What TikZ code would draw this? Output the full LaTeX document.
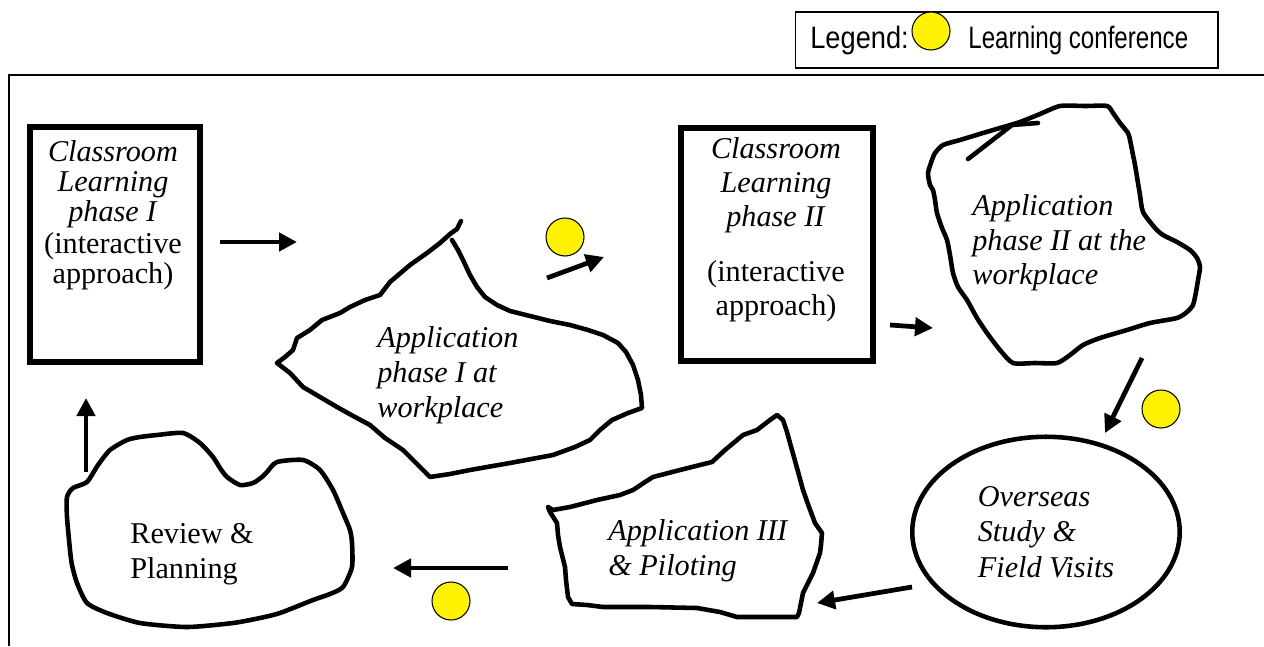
\documentclass[tikz,border=0pt]{standalone}
\usepackage{fontspec}
\setmainfont{Liberation Serif}
\newfontfamily\legendfont[FakeStretch=0.78]{Liberation Sans}
\newfontfamily\legendwide[FakeStretch=0.88]{Liberation Sans}
\usetikzlibrary{arrows.meta,shapes.geometric}

\tikzset{
  blob/.style={line width=2.6pt, line join=round, line cap=round},
  phasebox/.style={draw, line width=3.4pt, inner sep=0pt},
  flow/.style={line width=2.7pt, -{Triangle[length=3.6mm,width=3.6mm]}},
  confdot/.style={circle, draw, fill=yellow, line width=0.6pt, minimum size=0.76cm, inner sep=0pt},
  phasetxt/.style={inner sep=0pt, align=left, font=\fontsize{17.2}{19.8}\selectfont},
  boxtxt/.style={inner sep=0pt, align=center},
  legendtxt/.style={inner sep=0pt, font=\legendfont\fontsize{17.6}{20}\selectfont}
}

\begin{document}
\begin{tikzpicture}[x=0.02cm, y=-0.02cm]
\useasboundingbox (0,0) rectangle (1264,646);
% frame and legend
\draw[line width=1.1pt] (9,646) -- (9,75) -- (1264,75);
\node[draw, line width=0.6pt, minimum width=8.46cm, minimum height=1.12cm] (legendbox) at (1006.5,40) {};
\node[legendtxt, anchor=base west, font=\legendwide\fontsize{17.6}{20}\selectfont] (legend) at (810,48) {Legend:};
\node[confdot] (legenddot) at (931,31) {};
\node[legendtxt, anchor=base west] (legendconf) at (968,48) {Learning conference};

% classroom boxes
\node[phasebox, minimum width=3.42cm, minimum height=4.7cm] (clsI) at (115,244.5) {};
\node[boxtxt, font=\fontsize{17.2}{17.1}\selectfont] (clsItxt) at (113,215)
  {\textit{Classroom}\\\textit{Learning}\\\textit{phase I}\\[1pt](interactive\\approach)};
\node[phasebox, minimum width=3.83cm, minimum height=4.68cm] (clsII) at (777,244.5) {};
\node[boxtxt, font=\fontsize{17.2}{19.3}\selectfont] (clsIItxt) at (776,230)
  {\textit{Classroom}\\\textit{Learning}\\\textit{phase II}\\[12pt](interactive\\approach)};

% application phase I
\draw[blob] plot coordinates {(461,221) (457,229) (450,234) (440,243) (427,253) (410,265)
  (390,282) (380,295) (365,300) (350,307) (340,313) (322,320) (310,330) (297,338) (293,350)
  (285,357) (277,363) (290,373) (303,387) (320,397) (337,407) (355,417) (370,425) (385,438)
  (403,450) (418,465) (430,477) (450,474) (470,470) (510,463) (553,455) (575,447) (590,440)
  (600,430) (612,420) (628,413) (642,408) (641,395) (638,380) (633,365) (626,352) (618,343)
  (603,335) (588,330) (570,325) (550,321) (530,316) (510,311) (497,305) (485,297) (477,287)
  (470,275) (463,260) (458,250) (452,240)};
\node[phasetxt, anchor=west, font=\itshape\fontsize{17.2}{19.9}\selectfont] (appItxt) at (377,375)
  {Application\\phase I at\\workplace};

% application phase II
\draw[blob] plot[smooth cycle, tension=0.4] coordinates {(1020,122) (1000,128) (983,133)
  (960,140) (943,145) (935,153) (932,160) (928,173) (930,185) (933,190) (935,200) (937,213)
  (942,228) (947,240) (950,255) (953,273) (958,287) (967,300) (977,318) (987,333) (1000,350)
  (1013,363) (1035,363) (1057,363) (1070,355) (1083,345) (1100,338) (1127,330) (1150,323)
  (1177,318) (1187,312) (1193,305) (1196,292) (1198,280) (1200,267) (1197,258) (1190,250)
  (1177,242) (1163,235) (1155,228) (1143,212) (1140,195) (1138,183) (1135,165) (1133,155)
  (1130,140) (1128,133) (1120,123) (1113,113) (1107,106) (1085,106) (1060,106) (1040,114)};
\draw[blob] (968,159) -- (990,142) -- (1012,125) -- (1038,123);
\node[phasetxt, anchor=west, font=\itshape\fontsize{17.2}{19.6}\selectfont] (appIItxt) at (972,243)
  {Application\\phase II at the\\workplace};

% overseas study
\node[ellipse, draw, line width=2.6pt, minimum width=5.35cm, minimum height=3.81cm,
  align=left, font=\itshape\fontsize{17.2}{20.2}\selectfont] (overseas) at (1046,532)
  {Overseas\\Study \&\\Field Visits};

% application III
\draw[blob] plot coordinates {(548,507) (553,510) (570,507) (597,500) (620,495) (633,490)
  (645,482) (653,477) (680,470) (712,462) (725,450) (743,435) (757,430) (770,420) (777,415)
  (783,420) (787,432) (790,443) (797,468) (803,490) (809,507) (815,523) (822,533) (821,545)
  (820,553) (813,573) (803,593) (799,613) (797,617) (737,617) (720,612) (697,608) (650,607)
  (603,607) (587,605) (572,604) (568,597) (566,580) (565,567) (560,547) (558,535) (557,523)
  (550,512) (548,507)};
\node[phasetxt, anchor=west, font=\itshape\fontsize{17.2}{19.9}\selectfont] (appIIItxt) at (608,550.5)
  {Application III\\\& Piloting};

% review and planning
\draw[blob] plot[smooth cycle, tension=0.4] coordinates {(67,497) (73,488) (87,482) (98,465)
  (110,450) (127,440) (140,437) (157,435) (183,433) (200,443) (213,457) (220,468) (227,477)
  (240,485) (253,483) (262,477) (267,472) (277,462) (303,460) (320,470) (333,490) (343,513)
  (350,530) (352,543) (352,567) (343,587) (330,594) (313,600) (280,613) (260,618) (233,623)
  (187,627) (140,623) (107,613) (87,603) (77,583) (72,565) (70,550) (67,517)};
\node[phasetxt, anchor=west] (reviewtxt) at (130,554.5) {Review \&\\Planning};

% flow arrows
\coordinate (fromclsI) at (220,242);   \coordinate (toappI) at (297,242);
\coordinate (fromappI) at (547,278);   \coordinate (toclsII) at (604,257);
\coordinate (fromclsII) at (890,325);  \coordinate (toappII) at (933,328);
\coordinate (fromappII) at (1142,358); \coordinate (tooverseas) at (1105,433);
\coordinate (fromoverseas) at (912,587); \coordinate (toappIII) at (817,603);
\coordinate (fromappIII) at (508,568); \coordinate (toreview) at (393,568);
\coordinate (fromreview) at (86,472);  \coordinate (toclsI) at (86,398);
\draw[flow] (fromclsI) -- (toappI);
\draw[flow] (fromappI) -- (toclsII);
\draw[flow] (fromclsII) -- (toappII);
\draw[flow] (fromappII) -- (tooverseas);
\draw[flow] (fromoverseas) -- (toappIII);
\draw[flow] (fromappIII) -- (toreview);
\draw[flow] (fromreview) -- (toclsI);

% learning conferences
\node[confdot] (confI) at (565,237) {};
\node[confdot] (confII) at (1161,409) {};
\node[confdot] (confIII) at (451,601) {};
\end{tikzpicture}
\end{document}
